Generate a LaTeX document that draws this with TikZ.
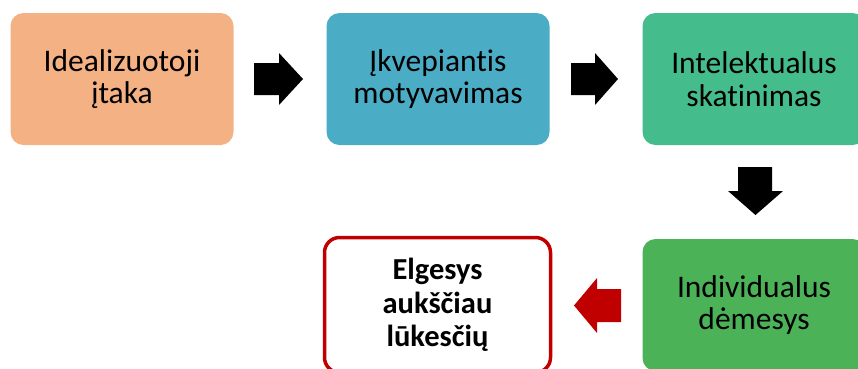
\documentclass[tikz,border=0pt]{standalone}
\usepackage{fontspec}
\setmainfont[Ligatures=NoCommon]{Carlito}
\definecolor{cSalmon}{HTML}{F4B183}
\definecolor{cTeal}{HTML}{4BACC6}
\definecolor{cSea}{HTML}{45BC8B}
\definecolor{cGreen}{HTML}{4CB257}
\definecolor{cRed}{HTML}{C00000}
\begin{document}
\begin{tikzpicture}[x=1pt,y=-1pt,
  box/.style={rounded corners=13pt, minimum width=223pt, minimum height=132pt,
    inner sep=0pt, align=center, text=black,
    font=\fontsize{31.5}{32.5}\selectfont},
  goalbox/.style={rounded corners=15pt, minimum width=226pt, minimum height=135pt,
    inner sep=0pt, align=center, text=black, draw=cRed, line width=3.5pt, fill=white,
    font=\bfseries\fontsize{30.5}{33.5}\selectfont},
  blockarrow/.style={fill=black, draw=none}]
\useasboundingbox (0,0) rectangle (858,368);
\clip (0,0) rectangle (858,368);
\node[box, fill=cSalmon] (b1) at (122,79) {Idealizuotoji\\įtaka};
\node[box, fill=cTeal] (b2) at (438,79) {Įkvepiantis\\motyvavimas};
\node[box, fill=cSea] (b3) at (754,79) {Intelektualus\\skatinimas};
\node[box, fill=cGreen] (b4) at (754,305) {Individualus\\dėmesys};
\node[goalbox] (b5) at (437.5,305) {Elgesys\\aukščiau\\lūkesčių};
% block arrows between the boxes
\fill[blockarrow] (254,63) -- (279,63) -- (279,53) -- (303,79) -- (279,105) -- (279,95) -- (254,95) -- cycle;
\fill[blockarrow] (571,63) -- (595,63) -- (595,53) -- (618,79) -- (595,105) -- (595,95) -- (571,95) -- cycle;
\fill[blockarrow] (738,167) -- (772,167) -- (772,191) -- (783,191) -- (755.5,215) -- (728,191) -- (738,191) -- cycle;
\fill[cRed] (621,289) -- (597,289) -- (597,278) -- (574,305.5) -- (597,333) -- (597,322) -- (621,322) -- cycle;
\end{tikzpicture}
\end{document}
